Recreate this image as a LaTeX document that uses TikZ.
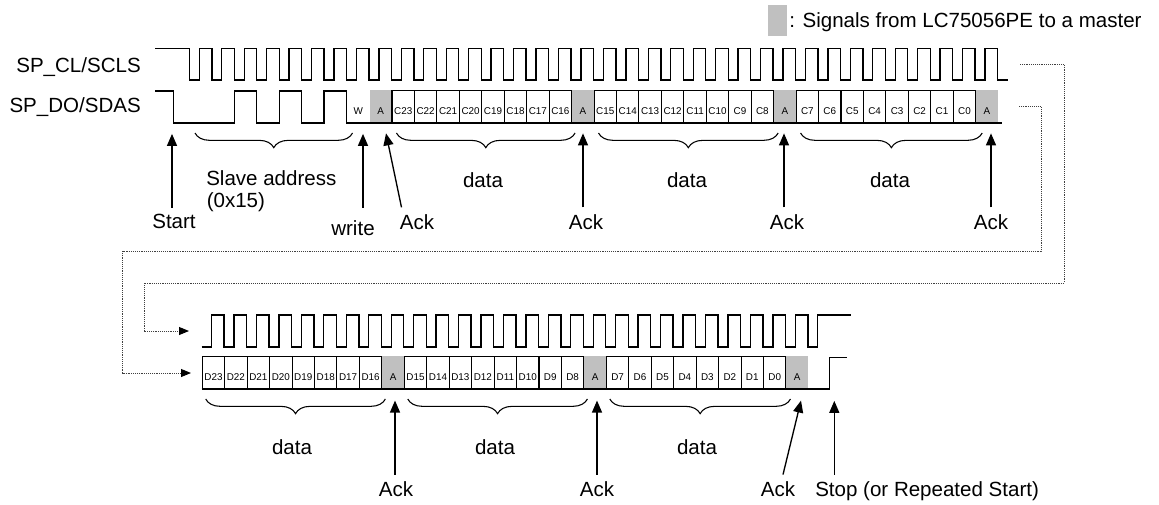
\documentclass[tikz,border=0pt]{standalone}
\usepackage{fontspec}
\setmainfont{Liberation Sans}
\usetikzlibrary{arrows.meta,decorations.pathreplacing}
\definecolor{ackgray}{RGB}{192,192,192}

\begin{document}
\begin{tikzpicture}[x=0.75pt,y=-0.75pt,
  wave/.style={line width=1pt},
  bitcell/.style={draw,line width=0.8pt,minimum width=16.84pt,minimum height=24pt,
    inner sep=0pt,anchor=south west,text height=12.3pt,text depth=0pt,
    font=\fontsize{7.4}{8}\selectfont},
  ackcell/.style={bitcell,draw=none,fill=ackgray},
  caption/.style={font=\fontsize{15.4}{18}\selectfont,inner sep=0pt},
  pointer/.style={line width=1pt,-{Triangle[length=9pt,width=7.5pt]}},
  field/.style={decorate,decoration={brace,mirror,amplitude=11pt},line width=0.8pt},
  link/.style={line width=0.7pt,black!75,dash pattern=on 0.7pt off 0.7pt,
    -{Triangle[length=7.5pt,width=6pt,color=black]}}]
\useasboundingbox (0,0) rectangle (1159,504);
\pgfmathsetmacro{\bitw}{22.45}
\pgfmathsetmacro{\tx}{189.4}
\pgfmathsetmacro{\lx}{201.7}

\node[fill=ackgray,minimum width=14.25pt,minimum height=23pt,inner sep=0pt,anchor=north west] (key) at (768,5) {};
\node[caption,anchor=base west] (keytext) at (789,27) {: Signals from LC75056PE to a master};

\node[caption,anchor=base east] (sclname) at (141,72) {SP\_CL/SCLS};
\node[caption,anchor=base east] (sdaname) at (141,112) {SP\_DO/SDAS};

\foreach \g in {0,1,2,3}
  \node[ackcell] (tack\g) at ({\tx+(8+9*\g)*\bitw},123) {A};
\foreach \g in {0,1,2}
  \foreach \j in {0,...,7}{
    \pgfmathtruncatemacro{\bitno}{23-8*\g-\j}
    \node[bitcell] (c\bitno) at ({\tx+(9+9*\g+\j)*\bitw},123) {C\bitno};
  }
\node[bitcell,draw=none] (wbit) at ({\tx+7*\bitw},123) {W};

\draw[wave] (155,48.5) -| (\tx,80)
  \foreach \k in {0,...,35}{ -- ({\tx+(\k+0.44)*\bitw},80) |- ({\tx+(\k+1)*\bitw},48.5) -- ({\tx+(\k+1)*\bitw},80) }
  -- (1008,80);
\draw[wave] (155,91) -| (173.3,123) -| ({\tx+2*\bitw},91) -| ({\tx+3*\bitw},123)
  -| ({\tx+4*\bitw},91) -| ({\tx+5*\bitw},123) -| ({\tx+6*\bitw},91) -| ({\tx+7*\bitw},123) -- (1002,123);

\foreach \g in {0,1,2}
  \node[ackcell] (back\g) at ({\lx+(8+9*\g)*\bitw},389) {A};
\foreach \g in {0,1,2}
  \foreach \j in {0,...,7}{
    \pgfmathtruncatemacro{\bitno}{23-8*\g-\j}
    \node[bitcell] (d\bitno) at ({\lx+(9*\g+\j)*\bitw},389) {D\bitno};
  }

\draw[wave] (\lx,347)
  \foreach \k in {0,...,26}{ -- ({\lx+(\k+0.44)*\bitw},347) |- ({\lx+(\k+1)*\bitw},315) -- ({\lx+(\k+1)*\bitw},347) }
  -- ({\lx+27.44*\bitw},347) |- (851,315);
\draw[wave] (\lx,389) -- (829.3,389) |- (846.7,357.5);

\coordinate (clkout) at (1020,64.3);
\coordinate (clkin) at (189,331);
\coordinate (sdaout) at (1019,106.7);
\coordinate (sdain) at (191,373);
\draw[link] (clkout) -- ++(44.3,0) |- (144.3,283) |- (clkin);
\draw[link] (sdaout) -- ++(22,0) |- (122.7,251) |- (sdain);

\draw[field] (195,133) -- ([shift={(6,10)}]wbit.south west);
\draw[field] ([shift={(5,10)}]c23.south west) -- ([shift={(3,10)}]c16.south east);
\draw[field] ([shift={(5,10)}]c15.south west) -- ([shift={(4,10)}]c8.south east);
\draw[field] ([shift={(5,10)}]c7.south west) -- ([shift={(6,10)}]c0.south east);
\draw[field] ([shift={(4,10)}]d23.south west) -- ([shift={(3,10)}]d16.south east);
\draw[field] ([shift={(4,10)}]d15.south west) -- ([shift={(3,10)}]d8.south east);
\draw[field] ([shift={(4,10)}]d7.south west) -- ([shift={(4,10)}]d0.south east);

\node[caption,anchor=base west] (addr) at (206,185) {Slave address};
\node[caption,anchor=base west] (addrhex) at (206.5,207) {(0x15)};
\node[caption,anchor=base] (cdata1) at (483,187) {data};
\node[caption,anchor=base] (cdata2) at (687,187) {data};
\node[caption,anchor=base] (cdata3) at (890,187) {data};
\node[caption,anchor=base] (ddata1) at (292,454) {data};
\node[caption,anchor=base] (ddata2) at (495,454) {data};
\node[caption,anchor=base] (ddata3) at (697,454) {data};

\node[caption,anchor=base] (start) at (174,228.5) {Start};
\node[caption,anchor=base] (write) at (353,235) {write};
\node[caption,anchor=base] (tack1lbl) at (417,229.5) {Ack};
\node[caption,anchor=base] (tack2lbl) at (586,229.5) {Ack};
\node[caption,anchor=base] (tack3lbl) at (787,229.5) {Ack};
\node[caption,anchor=base] (tack4lbl) at (991,229.5) {Ack};
\node[caption,anchor=base] (back1lbl) at (396,496.7) {Ack};
\node[caption,anchor=base] (back2lbl) at (597,496.7) {Ack};
\node[caption,anchor=base] (back3lbl) at (778,496.7) {Ack};
\node[caption,anchor=base west] (stop) at (815,496.7) {Stop (or Repeated Start)};

\draw[pointer] ([shift={(-2,-6)}]start.north) -- ++(0,-74);
\draw[pointer] ([shift={(10,-12)}]write.north) -- ++(0,-74);
\draw[pointer] ([shift={(-15.5,-7)}]tack1lbl.north) -- ++(-15.5,-74);
\draw[pointer] ([shift={(-3,-7)}]tack2lbl.north) -- ++(0,-74);
\draw[pointer] ([shift={(-3,-7)}]tack3lbl.north) -- ++(0,-74);
\draw[pointer] ([shift={(0,-7)}]tack4lbl.north) -- ++(0,-74);
\draw[pointer] ([shift={(-1,-7)}]back1lbl.north) -- ++(0,-74);
\draw[pointer] ([shift={(0,-7)}]back2lbl.north) -- ++(0,-74);
\draw[pointer] ([shift={(5,-7)}]back3lbl.north) -- ++(18,-74);
\draw[pointer] ([shift={(19.3,-6.7)}]stop.north west) -- ++(0,-74);
\end{tikzpicture}
\end{document}
